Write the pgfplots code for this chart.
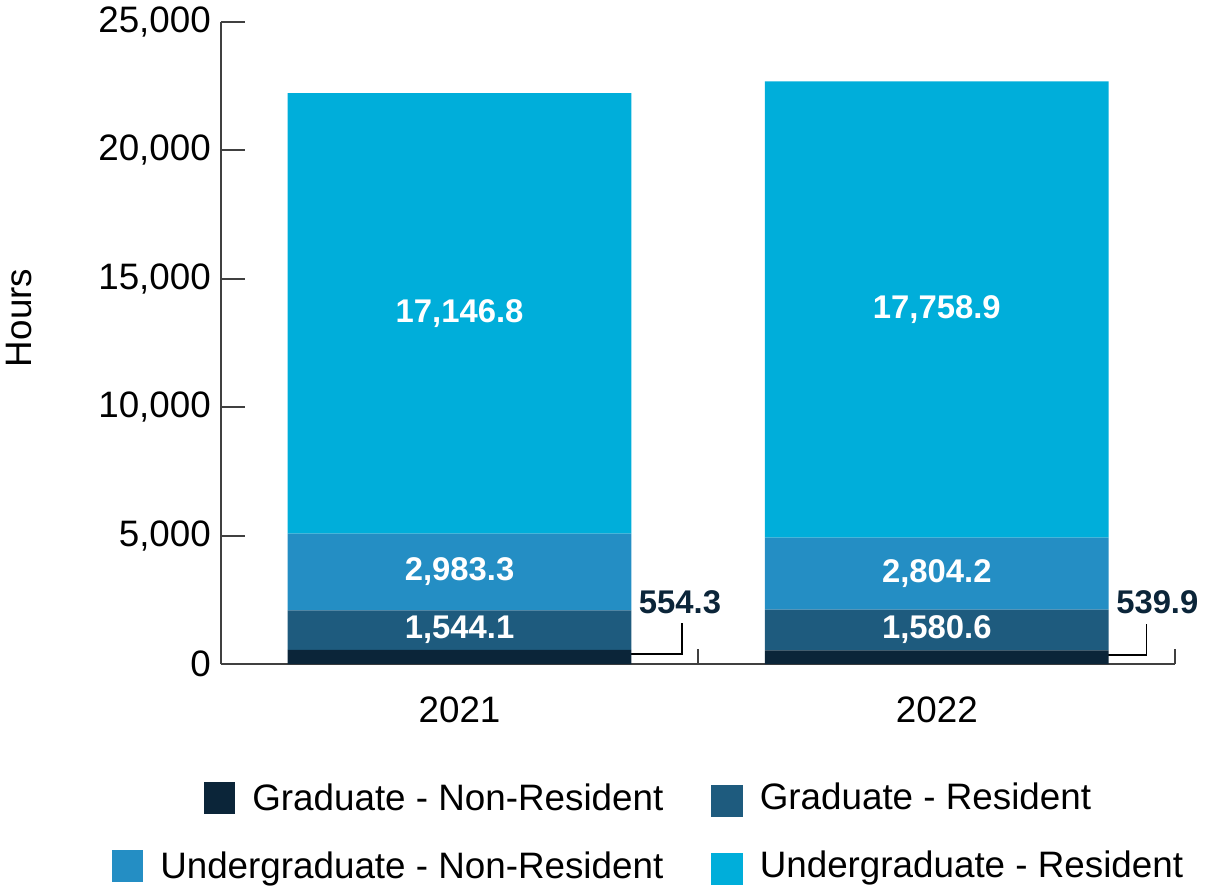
\documentclass[border=0pt]{standalone}
\usepackage{pgfplots}
\pgfplotsset{compat=1.18}
\usepackage{fontspec}
\setmainfont{Liberation Sans}

\definecolor{gradnr}{RGB}{11,37,57}
\definecolor{gradr}{RGB}{30,91,126}
\definecolor{ugnr}{RGB}{36,142,196}
\definecolor{ugr}{RGB}{0,174,218}
\definecolor{axisgray}{RGB}{64,64,64}

% legend square drawn inside the text cell
\newcommand{\sq}[1]{\textcolor{#1}{\rule[-1.6pt]{16pt}{16pt}}\hspace{8.5pt}}

\begin{document}
\begin{tikzpicture}
\begin{axis}[
    scale only axis,
    width=480pt, height=323pt,
    ybar stacked,
    bar width=0.72,
    xmin=-0.5, xmax=1.5,
    ymin=0, ymax=25000,
    axis x line*=bottom, axis y line*=left,
    xtick pos=bottom, ytick pos=left,
    axis line style={axisgray, line width=1pt},
    tick style={axisgray, line width=1pt},
    tick align=inside,
    major tick length=12pt,
    xtick={0,1},
    xticklabels={2021,2022},
    major x tick style={draw=none},
    extra x ticks={0.5,1.5},
    extra x tick labels={},
    extra x tick style={major tick length=7.5pt, major x tick style={draw=axisgray}},
    ytick={0,5000,10000,15000,20000,25000},
    scaled y ticks=false,
    tick label style={font=\fontsize{18.5}{22}\selectfont},
    xticklabel style={yshift=-13pt},
    yticklabel style={xshift=-1.5pt},
    /pgf/number format/.cd, 1000 sep={,}, assume math mode=true,
    /pgfplots/.cd,
    ylabel={Hours},
    ylabel style={at={(axis description cs:-0.211,0.539)}, anchor=center, font=\fontsize{18.5}{22}\selectfont},
    legend columns=2,
    legend cell align=left,
    legend style={draw=none, fill=none,
        at={(axis description cs:0.44,-0.17)}, anchor=north,
        font=\fontsize{18.5}{22}\selectfont,
        /tikz/every even column/.append style={column sep=22pt},
        /tikz/every odd column/.append style={column sep=6.5pt},
        row sep=14.5pt},
    visualization depends on=rawy\as\rawy,
    point meta=rawy,
    nodes near coords={\pgfmathprintnumber[fixed, fixed zerofill, precision=1, 1000 sep={,}, assume math mode=true]{\pgfplotspointmeta}},
    every node near coord/.append style={anchor=center, font=\fontsize{16.5}{20}\selectfont\bfseries, white},
]

% Graduate - Non-Resident (label outside, with leader line)
\addplot[fill=gradnr, draw=none, legend image code/.code={},
    every node near coord/.append style={gradnr, shift={(axis direction cs:0.462,2400-\rawy/2)}}]
    coordinates {(0,554.3) (1,539.9)};
\addlegendentry{\hphantom{\sq{ugnr}Undergraduate - Non-Resident}\llap{\sq{gradnr}Graduate - Non-Resident}}

% Graduate - Resident
\addplot[fill=gradr, draw=none,
    legend image code/.code={\fill[gradr] (0pt,-9.6pt) rectangle (16pt,6.4pt);}]
    coordinates {(0,1544.1) (1,1580.6)};
\addlegendentry{Graduate - Resident}

% Undergraduate - Non-Resident
\addplot[fill=ugnr, draw=none, legend image code/.code={}]
    coordinates {(0,2983.3) (1,2804.2)};
\addlegendentry{\sq{ugnr}Undergraduate - Non-Resident}

% Undergraduate - Resident
\addplot[fill=ugr, draw=none,
    legend image code/.code={\fill[ugr] (0pt,-9.6pt) rectangle (16pt,6.4pt);}]
    coordinates {(0,17146.8) (1,17758.9)};
\addlegendentry{Undergraduate - Resident}

% leader lines for the small bottom segments
\draw[black, line width=0.8pt] (axis cs:0.34,387) -- (axis cs:0.4666,387) -- (axis cs:0.4666,1587);
\draw[black, line width=0.8pt] (axis cs:1.35,348) -- (axis cs:1.4395,348) -- (axis cs:1.4395,1548);
\end{axis}
\end{tikzpicture}
\end{document}
